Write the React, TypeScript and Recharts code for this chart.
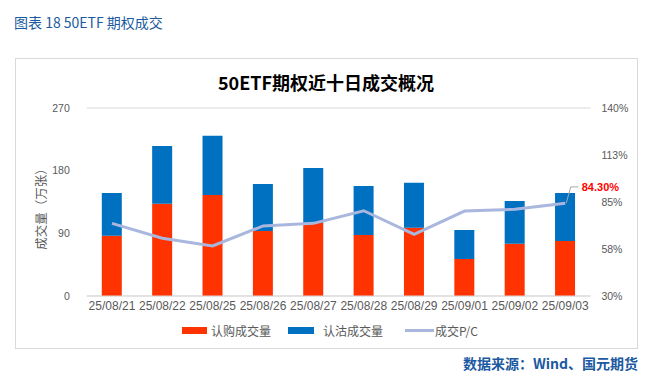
import React from "react";
import {
  ComposedChart,
  Bar,
  Line,
  XAxis,
  YAxis,
  CartesianGrid,
  Legend,
  LabelList,
} from "recharts";

const dates = [
  "25/08/21",
  "25/08/22",
  "25/08/25",
  "25/08/26",
  "25/08/27",
  "25/08/28",
  "25/08/29",
  "25/09/01",
  "25/09/02",
  "25/09/03",
];
// 认购 / 认沽 成交量 (万张)
const callVol = [86.6, 132.6, 145.0, 93.4, 104.8, 87.6, 98.1, 53.1, 75.1, 79.0];
const putVol = [61.3, 82.8, 85.2, 67.4, 79.0, 70.4, 64.6, 41.7, 61.3, 68.9];
// 成交P/C (%)
const pcRatio = [72.5, 63.8, 59.3, 71.0, 72.5, 79.9, 66.1, 79.7, 80.7, 84.3];

const leftTicks = [0, 90, 180, 270];
const rightTicks = [30, 57.5, 85, 112.5, 140];

const data = dates.map((d, i) => ({
  date: d,
  call: callVol[i],
  put: putVol[i],
  pc: pcRatio[i],
}));

const FONT = '"Liberation Sans", Arial, "Noto Sans CJK SC", sans-serif';
const CJK = '"Noto Sans CJK SC", "Liberation Sans", sans-serif';
const GRAY = "#595959";
const RED = "#FF3300";
const BLUE = "#0070C0";
const LINE = "#A9B7DF";
const SRC_BLUE = "#1B5AA0";

const LegendBox = () => (
  <div
    style={{
      display: "flex",
      alignItems: "center",
      paddingLeft: 182,
      fontFamily: CJK,
      fontSize: 12,
      color: GRAY,
      height: 16,
    }}
  >
    <span style={{ width: 25, height: 7, background: RED, display: "inline-block" }} />
    <span style={{ marginLeft: 4 }}>认购成交量</span>
    <span style={{ width: 26, height: 7, background: BLUE, display: "inline-block", marginLeft: 17 }} />
    <span style={{ marginLeft: 9 }}>认沽成交量</span>
    <span style={{ width: 29, height: 3, background: LINE, display: "inline-block", marginLeft: 22 }} />
    <span style={{ marginLeft: 1 }}>成交P/C</span>
  </div>
);

const LastLabel = (props: any) => {
  const { x, y, index, value } = props;
  if (index !== pcRatio.length - 1) return null;
  return (
    <g>
      <path
        d={`M${x + 1},${y} L${x + 5.5},${y - 16.3} L${x + 13},${y - 16.3}`}
        stroke="#A6A6A6"
        strokeWidth={1}
        fill="none"
      />
      <text
        x={x + 16.5}
        y={y - 16.3}
        dominantBaseline="central"
        fill="#FF0000"
        fontWeight="bold"
        fontSize={11}
        fontFamily={FONT}
      >
        {Number(value).toFixed(2)}%
      </text>
    </g>
  );
};

export default function App() {
  return (
    <div
      style={{
        position: "absolute",
        left: 0,
        top: 0,
        width: 665,
        height: 383,
        background: "#fff",
      }}
    >
      <div
        style={{
          position: "absolute",
          left: 14,
          top: 12,
          fontFamily: CJK,
          fontSize: 14,
          color: SRC_BLUE,
          whiteSpace: "nowrap",
        }}
      >
        图表 18 50ETF 期权成交
      </div>
      <div
        style={{
          position: "absolute",
          left: 15,
          top: 58,
          width: 621,
          height: 289,
          border: "1px solid #D9D9D9",
        }}
      />
      <div
        style={{
          position: "absolute",
          left: 0,
          top: 69,
          width: 652,
          textAlign: "center",
          fontFamily: CJK,
          fontWeight: "bold",
          fontSize: 18,
          color: "#000",
        }}
      >
        50ETF期权近十日成交概况
      </div>
      <div style={{ position: "absolute", left: 0, top: 0 }}>
        <ComposedChart
          width={665}
          height={383}
          data={data}
          margin={{ top: 108, right: 24.6, bottom: 57, left: 26.8 }}
          barSize={20}
        >
          <CartesianGrid vertical={false} stroke="#D9D9D9" />
          <XAxis
            dataKey="date"
            interval={0}
            height={30}
            tickLine={false}
            tickSize={5}
            tickMargin={0}
            axisLine={{ stroke: "#D9D9D9" }}
            tick={{ fill: GRAY, fontSize: 12, fontFamily: FONT }}
          />
          <YAxis
            yAxisId="left"
            width={60}
            domain={[0, 270]}
            ticks={leftTicks}
            axisLine={false}
            tickLine={false}
            tickMargin={11}
            tick={{ fill: GRAY, fontSize: 10.5, fontFamily: FONT }}
            label={() => (
              <text
                x={40}
                y={206}
                transform="rotate(-90, 40, 206)"
                textAnchor="middle"
                dominantBaseline="central"
                fill={GRAY}
                fontSize={12.5}
                fontFamily={CJK}
              >
                成交量（万张）
              </text>
            )}
          />
          <YAxis
            yAxisId="right"
            orientation="right"
            width={50}
            domain={[30, 140]}
            ticks={rightTicks}
            axisLine={false}
            tickLine={false}
            tickMargin={5}
            tickFormatter={(v: number) => `${Math.round(v)}%`}
            tick={{ fill: GRAY, fontSize: 10.5, fontFamily: FONT }}
          />
          <Legend
            verticalAlign="middle"
            align="center"
            content={<LegendBox />}
            wrapperStyle={{ top: 322, left: 0, width: 665 }}
          />
          <Bar
            yAxisId="left"
            dataKey="call"
            name="认购成交量"
            stackId="vol"
            fill={RED}
            isAnimationActive={false}
          />
          <Bar
            yAxisId="left"
            dataKey="put"
            name="认沽成交量"
            stackId="vol"
            fill={BLUE}
            isAnimationActive={false}
          />
          <Line
            yAxisId="right"
            dataKey="pc"
            name="成交P/C"
            stroke={LINE}
            strokeWidth={3}
            dot={false}
            activeDot={false}
            isAnimationActive={false}
          >
            <LabelList dataKey="pc" content={<LastLabel />} />
          </Line>
        </ComposedChart>
      </div>
      <div
        style={{
          position: "absolute",
          left: 463,
          top: 353,
          fontFamily: CJK,
          fontWeight: "bold",
          fontSize: 14,
          color: SRC_BLUE,
          whiteSpace: "nowrap",
        }}
      >
        数据来源：Wind、国元期货
      </div>
    </div>
  );
}
